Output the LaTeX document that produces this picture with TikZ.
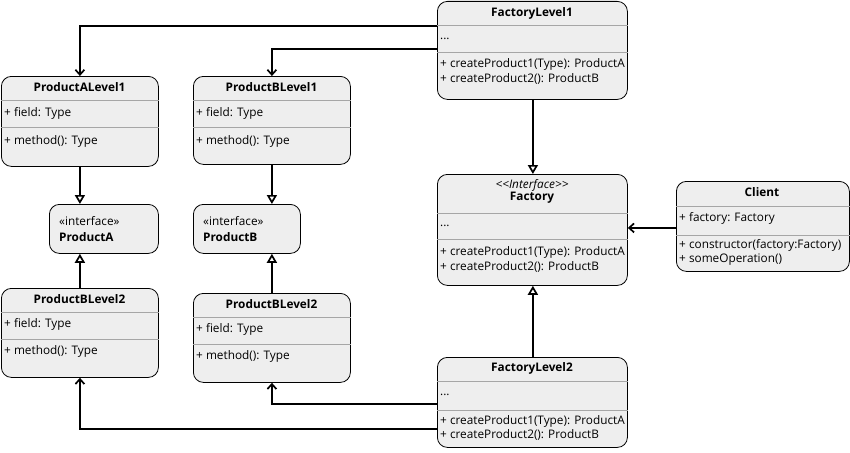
\documentclass[tikz,border=0pt]{standalone}
\usepackage{fontspec}
\setmainfont{Open Sans}
\usetikzlibrary{arrows.meta}
\definecolor{boxfill}{HTML}{EEEEEE}
\definecolor{sepgray}{HTML}{A6A6A6}
% class box: name, left, top, width, height, separators
\newcommand{\classbox}[6]{%
  \node[box,minimum width=#4pt,minimum height=#5pt] (#1) at (#2,#3) {};
  \foreach \s in {#6}
    \draw[sepline] ([yshift=-\s pt]#1.north west) -- ([yshift=-\s pt]#1.north east);
}

\begin{document}
\begin{tikzpicture}[x=1pt,y=-1pt,
    box/.style={draw,fill=boxfill,rounded corners=10pt,anchor=north west,line width=0.8pt},
    sepline/.style={draw=sepgray,line width=0.8pt},
    txt/.style={anchor=west,inner sep=0pt,font=\fontsize{11.8}{13}\selectfont},
    ttl/.style={inner sep=0pt,font=\fontsize{11.8}{13}\selectfont\bfseries},
    dep/.style={-{Straight Barb[length=5pt,width=9pt]},line width=1.7pt},
    inherit/.style={-{Triangle[open,fill=white,length=9pt,width=10pt]},line width=1.7pt}]
  \useasboundingbox (0,0) rectangle (850,452);
  % factories
  \classbox{fl1}{437}{1}{190}{98}{24,51}
  \node[ttl] (fl1-t) at (532,13) {FactoryLevel1};
  \node[txt] (fl1-a) at (440,39) {...};
  \node[txt] (fl1-m1) at (440,64) {+ createProduct1(Type): ProductA};
  \node[txt] (fl1-m2) at (440,79) {+ createProduct2(): ProductB};
  \classbox{fac}{437}{174}{190}{111}{39,65}
  \node[txt,anchor=center] (fac-s) at (532,185) {\itshape <{}<Interface>{}>};
  \node[ttl] (fac-t) at (532,198) {Factory};
  \node[txt] (fac-a) at (440,226) {...};
  \node[txt] (fac-m1) at (440,252) {+ createProduct1(Type): ProductA};
  \node[txt] (fac-m2) at (440,267) {+ createProduct2(): ProductB};
  \classbox{fl2}{437}{357}{190}{90}{24,53}
  \node[ttl] (fl2-t) at (532,368) {FactoryLevel2};
  \node[txt] (fl2-a) at (440,395) {...};
  \node[txt] (fl2-m1) at (440,421) {+ createProduct1(Type): ProductA};
  \node[txt] (fl2-m2) at (440,435) {+ createProduct2(): ProductB};
  \classbox{cli}{676}{181}{173}{90}{25,54}
  \node[ttl] (cli-t) at (762,192) {Client};
  \node[txt] (cli-a) at (679,218) {+ factory: Factory};
  \node[txt] (cli-m1) at (679,245) {+ constructor(factory:Factory)};
  \node[txt] (cli-m2) at (679,260) {+ someOperation()};
  % products
  \classbox{pa1}{1}{76}{157}{90}{24,51}
  \node[ttl] (pa1-t) at (79.5,87) {ProductALevel1};
  \node[txt] (pa1-a) at (4,113) {+ field: Type};
  \node[txt] (pa1-m) at (4,141) {+ method(): Type};
  \classbox{pb1}{193}{76}{157}{88}{24,51}
  \node[ttl] (pb1-t) at (271.5,87) {ProductBLevel1};
  \node[txt] (pb1-a) at (196,113) {+ field: Type};
  \node[txt] (pb1-m) at (196,141) {+ method(): Type};
  \node[box,minimum width=109pt,minimum height=49pt] (pa) at (49,204) {};
  \node[txt] (pa-s) at (59,221) {«interface»};
  \node[txt,font=\fontsize{11.8}{13}\selectfont\bfseries] (pa-t) at (59,237) {ProductA};
  \node[box,minimum width=107pt,minimum height=49pt] (pb) at (193,204) {};
  \node[txt] (pb-s) at (203,221) {«interface»};
  \node[txt,font=\fontsize{11.8}{13}\selectfont\bfseries] (pb-t) at (203,237) {ProductB};
  \classbox{pa2}{1}{288}{157}{89}{24,51}
  \node[ttl] (pa2-t) at (79.5,299) {ProductBLevel2};
  \node[txt] (pa2-a) at (4,324) {+ field: Type};
  \node[txt] (pa2-m) at (4,351) {+ method(): Type};
  \classbox{pb2}{193}{293}{157}{89}{24,51}
  \node[ttl] (pb2-t) at (271.5,304) {ProductBLevel2};
  \node[txt] (pb2-a) at (196,329) {+ field: Type};
  \node[txt] (pb2-m) at (196,356) {+ method(): Type};
  % connectors
  \draw[dep] ([yshift=-25pt]fl1.north west) -| (pa1.north);
  \draw[dep] ([yshift=-48pt]fl1.north west) -| (pb1.north);
  \draw[dep] ([yshift=19pt]fl2.south west) -| (pa2.south);
  \draw[dep] ([yshift=44pt]fl2.south west) -| (pb2.south);
  \draw[dep] ([yshift=-1.5pt]cli.west) -- ([yshift=-1.5pt]cli.west -| fac.east);
  \draw[inherit] ([xshift=0.5pt]fl1.south) -- ([xshift=0.5pt]fac.north);
  \draw[inherit] ([xshift=0.5pt]fl2.north) -- ([xshift=0.5pt]fac.south);
  \draw[inherit] (pa1.south) -- (pa1.south |- pa.north);
  \draw[inherit] (pa2.north) -- (pa2.north |- pa.south);
  \draw[inherit] (pb1.south) -- (pb1.south |- pb.north);
  \draw[inherit] (pb2.north) -- (pb2.north |- pb.south);
\end{tikzpicture}
\end{document}
